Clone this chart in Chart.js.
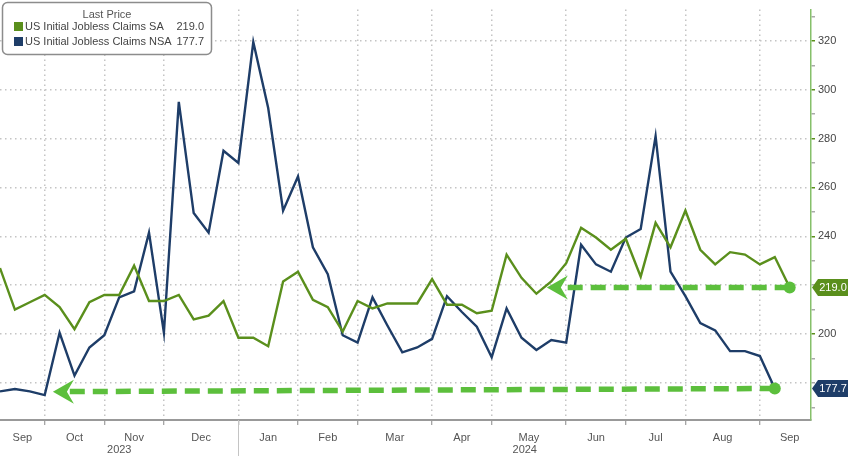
<!DOCTYPE html>
<html>
<head>
<meta charset="utf-8">
<script src="https://cdn.jsdelivr.net/npm/chart.js@4.4.1/dist/chart.umd.min.js"></script>
<style>
  html, body { margin: 0; padding: 0; background: #fff; }
</style>
</head>
<body>
<canvas id="chart1" width="848" height="456"></canvas>
<script>
// weekly dates (week ending)
const weeks = [
  '2023-09-09', '2023-09-16', '2023-09-23', '2023-09-30', '2023-10-07', '2023-10-14', '2023-10-21', '2023-10-28',
  '2023-11-04', '2023-11-11', '2023-11-18', '2023-11-25', '2023-12-02', '2023-12-09', '2023-12-16', '2023-12-23',
  '2023-12-30', '2024-01-06', '2024-01-13', '2024-01-20', '2024-01-27', '2024-02-03', '2024-02-10', '2024-02-17',
  '2024-02-24', '2024-03-02', '2024-03-09', '2024-03-16', '2024-03-23', '2024-03-30', '2024-04-06', '2024-04-13',
  '2024-04-20', '2024-04-27', '2024-05-04', '2024-05-11', '2024-05-18', '2024-05-25', '2024-06-01', '2024-06-08',
  '2024-06-15', '2024-06-22', '2024-06-29', '2024-07-06', '2024-07-13', '2024-07-20', '2024-07-27', '2024-08-03',
  '2024-08-10', '2024-08-17', '2024-08-24', '2024-08-31', '2024-09-07', '2024-09-14',
];

// US Initial Jobless Claims SA (thousands)
const claimsSA = [
  227, 210, 213, 216, 211, 202, 213, 216, 216, 228,
  213.5, 213.5, 216, 206, 207.5, 213.5, 198.5, 198.5, 195, 221.5,
  225.5, 214, 211, 201, 213.5, 210.5, 212.5, 212.5, 212.5, 222.5,
  212, 212, 208.5, 209.5, 232.5, 223, 216.5, 221.5, 229, 243.5,
  239.5, 234.5, 239, 223.5, 245.5, 235.5, 250.5, 234.5, 228.5, 233.5,
  232.5, 228.5, 231.5, 219.0,
];

// US Initial Jobless Claims NSA (thousands)
const claimsNSA = [
  176.5, 177.5, 176.5, 175, 200.5, 183, 194.5, 199.5, 215, 217.5,
  241.5, 200.5, 295, 249.5, 241.5, 275, 270, 319.5, 292.5, 250.5,
  264.5, 235.5, 224.5, 199.5, 196.5, 215, 203.5, 192.5, 194.5, 198,
  215.5, 209, 203, 190.5, 210.5, 198.5, 193.5, 197.5, 196.5, 236.5,
  228.5, 225.5, 239.5, 243, 281, 225.5, 215.5, 204.5, 201.5, 193,
  193, 191, 177.7, null,
];

const seriesNames = ['US Initial Jobless Claims SA', 'US Initial Jobless Claims NSA'];
const monthNames = ['Sep', 'Oct', 'Nov', 'Dec', 'Jan', 'Feb', 'Mar', 'Apr', 'May', 'Jun', 'Jul', 'Aug', 'Sep'];
const monthEdges = [3, 7, 11, 16, 20, 24, 29, 33, 38, 42, 46, 51]; // week index of month breaks
const yearNames = ['2023', '2024'];
const yLabels = [200, 240, 260, 280, 300, 320];

// annotation arrows: [week index, value] of the dot end and of the arrow tip
const arrows = [
  { from: [53, 219.0], to: [36.7, 219.0] },
  { from: [52, 177.7], to: [3.55, 176.4] },
];

const FONT = '"Liberation Sans", Arial, sans-serif';
const GREEN = '#5a8f1c';
const NAVY = '#1e3d68';
const ARROW = '#5cbf3c';

// month label positions: middle of each month span
const edgesExt = [0, ...monthEdges, 55];
const monthMid = monthNames.map((m, i) => (i === 0 ? 1.5 : i === monthNames.length - 1 ? 53 : (edgesExt[i] + edgesExt[i + 1]) / 2));

const overlay = {
  id: 'overlay',
  afterDatasetsDraw(chart) {
    const { ctx, scales: { x, y } } = chart;
    ctx.save();
    arrows.forEach(a => {
      const x0 = x.getPixelForValue(a.from[0]), y0 = y.getPixelForValue(a.from[1]);
      const x1 = x.getPixelForValue(a.to[0]), y1 = y.getPixelForValue(a.to[1]);
      const slope = (y0 - y1) / (x0 - x1);
      ctx.strokeStyle = ARROW;
      ctx.fillStyle = ARROW;
      ctx.lineWidth = 5.5;
      ctx.setLineDash([15, 8]);
      ctx.beginPath();
      ctx.moveTo(x0, y0);
      ctx.lineTo(x1 + 12, y1 + slope * 12);
      ctx.stroke();
      ctx.setLineDash([]);
      ctx.beginPath();
      ctx.arc(x0, y0, 6, 0, Math.PI * 2);
      ctx.fill();
      ctx.beginPath();
      ctx.moveTo(x1, y1);
      ctx.lineTo(x1 + 21, y1 - 12);
      ctx.lineTo(x1 + 14, y1);
      ctx.lineTo(x1 + 21, y1 + 12);
      ctx.closePath();
      ctx.fill();
    });
    ctx.restore();
  },
  afterDraw(chart) {
    const { ctx, chartArea: area, scales: { x, y } } = chart;
    ctx.save();

    // year separator and year labels
    const sep = Math.round(x.getPixelForValue(monthEdges[3])) + 0.5;
    ctx.strokeStyle = '#c4c4c4';
    ctx.lineWidth = 1;
    ctx.beginPath();
    ctx.moveTo(sep, area.bottom);
    ctx.lineTo(sep, chart.height);
    ctx.stroke();
    ctx.font = '11px ' + FONT;
    ctx.fillStyle = '#555';
    ctx.textAlign = 'center';
    ctx.textBaseline = 'middle';
    ctx.fillText(yearNames[0], (area.left + sep) / 2, 450);
    ctx.fillText(yearNames[1], (sep + area.right) / 2, 450);

    // last value tags on the right axis
    const tag = (val, color) => {
      const ty = y.getPixelForValue(val);
      const tx = area.right + 1;
      ctx.fillStyle = color;
      ctx.beginPath();
      ctx.moveTo(tx, ty);
      ctx.lineTo(tx + 6, ty - 8.5);
      ctx.lineTo(chart.width, ty - 8.5);
      ctx.lineTo(chart.width, ty + 8.5);
      ctx.lineTo(tx + 6, ty + 8.5);
      ctx.closePath();
      ctx.fill();
      ctx.fillStyle = '#fff';
      ctx.font = '11px ' + FONT;
      ctx.textAlign = 'center';
      ctx.fillText(val.toFixed(1), (tx + 6 + chart.width) / 2, ty + 0.5);
    };
    const lastSA = claimsSA.filter(v => v !== null).slice(-1)[0];
    const lastNSA = claimsNSA.filter(v => v !== null).slice(-1)[0];
    tag(lastSA, GREEN);
    tag(lastNSA, NAVY);

    // legend box
    ctx.fillStyle = '#fff';
    ctx.strokeStyle = '#8c8c8c';
    ctx.lineWidth = 1.5;
    ctx.beginPath();
    ctx.roundRect(2.5, 2.5, 209, 52, 5);
    ctx.fill();
    ctx.stroke();
    ctx.fillStyle = '#555';
    ctx.font = '11px ' + FONT;
    ctx.textAlign = 'center';
    ctx.fillText('Last Price', 107, 15);
    const rows = [[seriesNames[0], GREEN, lastSA], [seriesNames[1], NAVY, lastNSA]];
    rows.forEach((r, i) => {
      const ry = 27 + i * 15;
      ctx.fillStyle = r[1];
      ctx.fillRect(14, ry - 5, 9, 9);
      ctx.fillStyle = '#444';
      ctx.textAlign = 'left';
      ctx.fillText(r[0], 25, ry);
      ctx.textAlign = 'right';
      ctx.fillText(r[2].toFixed(1), 204, ry);
    });
    ctx.restore();
  },
};

const ctx = document.getElementById('chart1').getContext('2d');
const myChart = new Chart(ctx, {
  type: 'line',
  data: {
    datasets: [
      {
        label: seriesNames[0],
        data: claimsSA.map((v, i) => ({ x: i, y: v })),
        borderColor: GREEN,
        borderWidth: 2.4,
        pointRadius: 0,
        tension: 0,
      },
      {
        label: seriesNames[1],
        data: claimsNSA.map((v, i) => ({ x: i, y: v })),
        borderColor: NAVY,
        borderWidth: 2.4,
        pointRadius: 0,
        tension: 0,
      },
    ],
  },
  options: {
    responsive: false,
    animation: false,
    devicePixelRatio: 1,
    layout: { padding: 0 },
    plugins: {
      legend: { display: false },
      tooltip: {
        callbacks: { title: items => weeks[items[0].parsed.x] },
      },
    },
    scales: {
      x: {
        type: 'linear',
        min: 0,
        max: 54.43,
        afterFit: s => { s.height = 36; },
        afterBuildTicks: s => {
          s.ticks = [...monthEdges, ...monthMid].sort((a, b) => a - b).map(v => ({ value: v }));
        },
        ticks: {
          autoSkip: false,
          maxRotation: 0,
          minRotation: 0,
          padding: 6,
          color: '#555',
          font: { size: 11, family: FONT },
          callback: v => {
            const k = monthMid.indexOf(v);
            return k >= 0 ? monthNames[k] : '';
          },
        },
        grid: {
          color: c => (c.tick && monthEdges.includes(c.tick.value) ? '#c4c4c4' : 'rgba(0,0,0,0)'),
          lineWidth: 1.5,
          tickLength: 5,
          tickColor: c => (c.tick && monthEdges.includes(c.tick.value) ? '#888' : 'rgba(0,0,0,0)'),
          tickWidth: 1,
        },
        border: { color: '#999', width: 2, dash: [1.5, 3.5] },
      },
      y: {
        position: 'right',
        min: 164.8,
        max: 332.8,
        afterFit: s => { s.width = 37; },
        ticks: {
          stepSize: 10,
          includeBounds: false,
          autoSkip: false,
          padding: 3,
          color: '#444',
          font: { size: 11, family: FONT },
          callback: v => (yLabels.includes(v) ? String(v) : ''),
        },
        grid: {
          color: c => (c.tick && c.tick.value % 20 === 0 ? '#c4c4c4' : 'rgba(0,0,0,0)'),
          lineWidth: 1.5,
          tickLength: 4,
          tickColor: c => (c.tick && yLabels.includes(c.tick.value) ? '#5a8f1c' : '#aaa'),
          tickWidth: 1.5,
        },
        border: { color: '#86c06a', width: 1.5, dash: [1.5, 3.5] },
      },
    },
  },
  plugins: [overlay],
});
</script>
</body>
</html>
